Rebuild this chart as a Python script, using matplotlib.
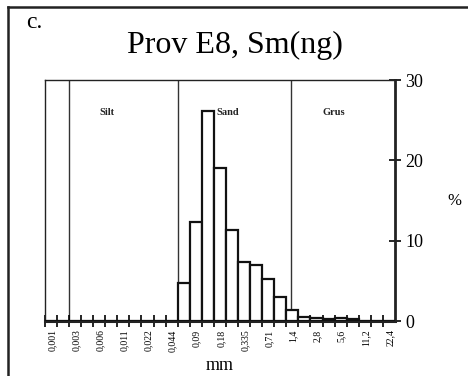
import numpy as np
import matplotlib.pyplot as plt
import matplotlib.transforms as mtransforms

plt.rcParams['font.family'] = ['Liberation Serif', 'DejaVu Serif']

# kornstorlek (mm), etikett vid varannan gräns
size_labels = ['0,001', '0,003', '0,006', '0,011', '0,022', '0,044', '0,09',
               '0,18', '0,335', '0,71', '1,4', '2,8', '5,6', '11,2', '22,4']
# procent per fraktion (29 fraktioner)
percent = [0, 0, 0, 0, 0, 0, 0, 0, 0, 0, 0,
           4.8, 12.3, 26.2, 19.0, 11.3, 7.3, 7.0, 5.3, 3.0, 1.4,
           0.5, 0.4, 0.3, 0.4, 0.3, 0, 0, 0]
# gränser lera/silt, silt/sand, sand/grus (i fraktionsenheter)
class_bounds = [2.0, 11.0, 20.4]
class_names = ['Silt', 'Sand', 'Grus']
class_label_x = [5.1, 14.2, 23.9]

fig = plt.figure(figsize=(4.68, 3.76), dpi=100)
ax = fig.add_axes([0.096, 0.146, 0.748, 0.641])

n = len(percent)
pos = np.arange(n)
ax.bar(pos, percent, width=1.0, align='edge', color='white',
       edgecolor='#111111', linewidth=1.6, zorder=3)

for b in class_bounds:
    ax.axvline(b, color='#333333', linewidth=1.0, zorder=1)

for name, xl in zip(class_names, class_label_x):
    ha = 'left' if name == 'Sand' else 'center'
    ax.text(xl, 26, name, fontsize=7.5, fontweight='bold', ha=ha, va='center',
            color='#222222', zorder=4)

ax.set_xlim(0, n)
ax.set_ylim(0, 30)

ax.set_xticks(np.arange(0, n))
ax.set_xticklabels([size_labels[i // 2] if i % 2 == 0 else '' for i in range(n)],
                   rotation=90, fontsize=7)
ax.tick_params(axis='x', direction='inout', length=8, width=1.2, pad=2)
offset = mtransforms.ScaledTranslation(0.07, 0, fig.dpi_scale_trans)
for lab in ax.get_xticklabels():
    lab.set_transform(lab.get_transform() + offset)

ax.yaxis.tick_right()
ax.yaxis.set_label_position('right')
ax.set_yticks([0, 10, 20, 30])
ax.tick_params(axis='y', direction='inout', length=9, width=1.2, pad=3,
               labelsize=13)
ax.set_ylabel('%', rotation=0, fontsize=12, labelpad=22, va='center')

ax.spines['bottom'].set_linewidth(2.2)
ax.spines['right'].set_linewidth(2.0)
ax.spines['left'].set_linewidth(1.0)
ax.spines['top'].set_linewidth(1.0)
for s in ax.spines.values():
    s.set_color('#222222')

ax.set_xlabel('mm', fontsize=13, labelpad=4)

fig.text(0.502, 0.878, 'Prov E8, Sm(ng)', fontsize=23, ha='center', va='center')
fig.text(0.055, 0.939, 'c.', fontsize=17, ha='left', va='center')

# ram runt figuren
fig.add_artist(plt.Line2D([0.017, 0.017], [0.0, 0.981], color='#222222',
                          linewidth=1.8, transform=fig.transFigure))
fig.add_artist(plt.Line2D([0.017, 1.0], [0.981, 0.981], color='#222222',
                          linewidth=1.8, transform=fig.transFigure))

fig.savefig('out.png', dpi=100)
